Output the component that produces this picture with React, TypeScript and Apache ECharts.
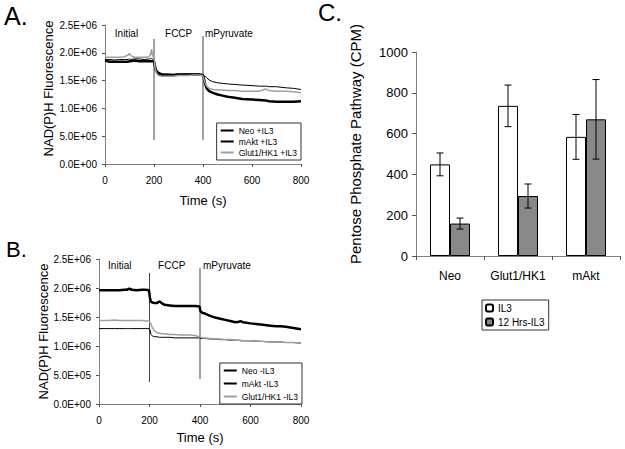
import React, { useEffect, useRef } from 'react';
import * as echarts from 'echarts';

// ---------- Panel A (+IL3), fluorescence in units of 1E+06 ----------
const timeA = [0, 20, 40, 60, 80, 95, 100, 105, 120, 140, 160, 180, 186, 190, 194, 200, 204, 208, 214, 220, 230, 240, 260, 280, 300, 320, 340, 360, 380, 398, 402, 408, 415, 425, 440, 460, 480, 500, 530, 560, 600, 630, 655, 660, 670, 700, 740, 770, 800];
const neoA = [1.88, 1.88, 1.87, 1.88, 1.88, 1.88, 1.89, 1.88, 1.89, 1.89, 1.88, 1.89, 1.89, 1.9, 1.89, 1.88, 1.78, 1.72, 1.68, 1.65, 1.63, 1.62, 1.62, 1.61, 1.62, 1.62, 1.62, 1.62, 1.62, 1.61, 1.6, 1.58, 1.55, 1.51, 1.48, 1.46, 1.45, 1.44, 1.43, 1.42, 1.41, 1.4, 1.4, 1.4, 1.39, 1.39, 1.37, 1.36, 1.34];
const mAktA = [1.86, 1.84, 1.84, 1.84, 1.84, 1.84, 1.85, 1.85, 1.86, 1.85, 1.85, 1.85, 1.85, 1.85, 1.85, 1.85, 1.76, 1.68, 1.64, 1.62, 1.61, 1.6, 1.6, 1.6, 1.61, 1.61, 1.61, 1.61, 1.61, 1.6, 1.57, 1.45, 1.36, 1.31, 1.28, 1.25, 1.23, 1.21, 1.19, 1.17, 1.16, 1.15, 1.14, 1.14, 1.13, 1.12, 1.12, 1.12, 1.13];
const glutA = [1.92, 1.92, 1.92, 1.92, 1.93, 1.96, 1.99, 1.95, 1.92, 1.92, 1.92, 1.93, 1.97, 2.06, 1.95, 1.92, 1.75, 1.66, 1.61, 1.59, 1.58, 1.58, 1.58, 1.58, 1.59, 1.59, 1.59, 1.6, 1.6, 1.59, 1.55, 1.46, 1.4, 1.36, 1.34, 1.33, 1.33, 1.32, 1.32, 1.31, 1.31, 1.31, 1.35, 1.34, 1.32, 1.31, 1.31, 1.3, 1.28];

// ---------- Panel B (-IL3) ----------
const timeB = [0, 20, 40, 60, 80, 100, 110, 120, 130, 150, 170, 185, 198, 202, 206, 212, 220, 230, 240, 248, 260, 280, 300, 320, 340, 360, 380, 398, 402, 410, 420, 440, 460, 480, 500, 520, 540, 555, 560, 570, 600, 640, 680, 700, 720, 740, 770, 800];
const neoB = [1.3, 1.3, 1.3, 1.3, 1.3, 1.3, 1.3, 1.3, 1.3, 1.3, 1.3, 1.3, 1.3, 1.28, 1.2, 1.17, 1.16, 1.16, 1.15, 1.15, 1.15, 1.15, 1.14, 1.14, 1.14, 1.14, 1.14, 1.14, 1.13, 1.13, 1.13, 1.12, 1.12, 1.11, 1.11, 1.1, 1.1, 1.1, 1.09, 1.09, 1.09, 1.08, 1.07, 1.07, 1.07, 1.06, 1.06, 1.05];
const mAktB = [1.96, 1.96, 1.96, 1.96, 1.96, 1.97, 1.97, 1.99, 1.97, 1.96, 1.97, 1.97, 1.96, 1.82, 1.76, 1.75, 1.74, 1.74, 1.77, 1.74, 1.71, 1.7, 1.69, 1.69, 1.69, 1.69, 1.69, 1.68, 1.6, 1.57, 1.56, 1.52, 1.49, 1.47, 1.45, 1.43, 1.41, 1.42, 1.43, 1.41, 1.39, 1.37, 1.35, 1.34, 1.34, 1.33, 1.31, 1.29];
const glutB = [1.44, 1.44, 1.44, 1.45, 1.44, 1.44, 1.44, 1.44, 1.44, 1.44, 1.44, 1.43, 1.43, 1.41, 1.37, 1.31, 1.26, 1.23, 1.22, 1.21, 1.21, 1.2, 1.2, 1.19, 1.19, 1.19, 1.18, 1.16, 1.15, 1.14, 1.14, 1.13, 1.12, 1.12, 1.11, 1.11, 1.1, 1.1, 1.1, 1.09, 1.09, 1.08, 1.07, 1.07, 1.07, 1.06, 1.06, 1.05];

// ---------- Event markers ----------
const eventLabels = ['Initial', 'FCCP', 'mPyruvate'];
const labelTimeA = [40, 245, 408];
const labelLevelA = 2.34;
const labelTimeB = [36, 234, 412];
const labelLevelB = 2.38;
const eventTimes = [200, 400];
const eventTopA = [2.25, 2.3];
const eventBottomA = [0.43, 0.43];
const eventTopB = [2.26, 2.34];
const eventBottomB = [0.38, 0.43];

// ---------- Panel C ----------
const categories = ['Neo', 'Glut1/HK1', 'mAkt'];
const il3 = [449, 736, 584];
const il3Err = [56, 102, 110];
const noIl3 = [159, 294, 670];
const noIl3Err = [27, 59, 195];
const legendC = ['IL3', '12 Hrs-IL3'];

const FONT = 'Liberation Sans, Arial, sans-serif';
const AXIS_GRAY = '#808080';
const BAR_W = 20;
const CAP = 3.5;

const pairs = (t: number[], v: number[]) => t.map((x, i) => [x, v[i]]);

const sci = (v: number) => {
  const x = Math.round(v * 1e6);
  if (x === 0) return '0.0E+00';
  const e = Math.floor(Math.log10(x) + 1e-9);
  const m = x / Math.pow(10, e);
  return m.toFixed(1) + 'E+' + String(e).padStart(2, '0');
};

function timeXAxis(gridIndex: number, nameGap: number) {
  return {
    gridIndex, type: 'value', min: 0, max: 800, interval: 200,
    axisLine: { show: true, onZero: false, lineStyle: { color: AXIS_GRAY, width: 1 } },
    axisTick: { show: true, length: 3, lineStyle: { color: '#555' } },
    splitLine: { show: false },
    axisLabel: { fontSize: 10, color: '#000', fontFamily: FONT, margin: 11 },
    name: 'Time (s)', nameLocation: 'middle', nameGap,
    nameTextStyle: { fontSize: 13, color: '#000', fontFamily: FONT, fontWeight: 'normal' },
  };
}

function fluoYAxis(gridIndex: number, nameGap: number, shift: number) {
  return {
    gridIndex, type: 'value', min: 0, max: 2.5, interval: 0.5,
    axisLine: { show: true, onZero: false, lineStyle: { color: AXIS_GRAY, width: 1 } },
    axisTick: { show: true, length: 3, lineStyle: { color: '#555' } },
    splitLine: { show: false },
    axisLabel: { fontSize: 10, color: '#000', fontFamily: FONT, margin: 8, formatter: (v: number) => sci(v) },
    name: 'NAD(P)H Fluorescence', nameLocation: 'middle', nameGap,
    nameTextStyle: { fontSize: 13, color: '#000', fontFamily: FONT, fontWeight: 'normal', padding: [0, 0, 0, shift] },
  };
}

function traceSeries(name: string, idx: number, t: number[], v: number[], color: string, width: number) {
  return {
    type: 'line', name, xAxisIndex: idx, yAxisIndex: idx, data: pairs(t, v),
    symbol: 'none', showSymbol: false, silent: true,
    lineStyle: { color, width }, itemStyle: { color },
  };
}

function eventSeries(idx: number, tops: number[], bottoms: number[]) {
  return eventTimes.map((t, i) => ({
    type: 'line', name: 'event' + idx + '_' + i, xAxisIndex: idx, yAxisIndex: idx,
    data: [[t, tops[i]], [t, bottoms[i]]], symbol: 'none', silent: true,
    lineStyle: { color: '#444', width: 1 }, z: 1,
  }));
}

function labelSeries(idx: number, times: number[], level: number) {
  return {
    type: 'scatter', name: 'labels' + idx, xAxisIndex: idx, yAxisIndex: idx, symbolSize: 0, silent: true,
    itemStyle: { color: '#000' },
    data: times.map((t, i) => ({
      value: [t, level],
      label: {
        show: true, formatter: eventLabels[i], position: [0, 0], align: 'left', verticalAlign: 'middle',
        fontSize: 10, color: '#000', fontFamily: FONT, opacity: 1,
      },
    })),
  };
}

function errSeries(vals: number[], errs: number[], side: number) {
  return {
    type: 'custom', name: 'err' + side, xAxisIndex: 2, yAxisIndex: 2, silent: true, z: 10,
    encode: { x: 0, y: 1 },
    data: vals.map((v, i) => [i, v, errs[i]]),
    renderItem: (params: any, api: any) => {
      const i = api.value(0);
      const v = api.value(1);
      const e = api.value(2);
      const c = api.coord([i, v]);
      const x = c[0] + side * BAR_W / 2;
      const top = api.coord([i, v + e])[1];
      const bot = api.coord([i, v - e])[1];
      const style = { stroke: '#000', lineWidth: 1 };
      return {
        type: 'group',
        children: [
          { type: 'line', shape: { x1: x, y1: top, x2: x, y2: bot }, style },
          { type: 'line', shape: { x1: x - CAP, y1: top, x2: x + CAP, y2: top }, style },
          { type: 'line', shape: { x1: x - CAP, y1: bot, x2: x + CAP, y2: bot }, style },
        ],
      };
    },
  };
}

function lineLegend(names: string[], right: number, top: number, itemGap: number) {
  return {
    data: names, orient: 'vertical', right, top,
    itemWidth: 13, itemHeight: 8, itemGap, padding: [3, 4, 3, 3],
    borderColor: '#333', borderWidth: 1, borderRadius: 0, backgroundColor: '#fff',
    textStyle: { fontSize: 8.5, color: '#000', fontFamily: FONT },
    itemStyle: { color: 'transparent', borderWidth: 0, opacity: 0 },
    selectedMode: false,
  };
}

export default function App() {
  const ref = useRef<HTMLDivElement>(null);
  useEffect(() => {
    if (!ref.current) return;
    const chart = echarts.init(ref.current, undefined, { renderer: 'svg' });
    const option: any = {
      animation: false,
      backgroundColor: '#fff',
      textStyle: { fontFamily: FONT },
      grid: [
        { left: 105, top: 25, width: 196, height: 139, outerBoundsMode: 'none' },
        { left: 99, top: 259, width: 202, height: 145, outerBoundsMode: 'none' },
        { left: 416, top: 52, width: 204, height: 204, outerBoundsMode: 'none' },
      ],
      xAxis: [
        timeXAxis(0, 30),
        timeXAxis(1, 27),
        {
          gridIndex: 2, type: 'category', data: categories,
          axisLine: { show: true, lineStyle: { color: AXIS_GRAY, width: 1 } },
          axisTick: { show: true, length: 4, lineStyle: { color: '#555' } },
          axisLabel: { fontSize: 12, color: '#000', fontFamily: FONT, margin: 14, interval: 0 },
        },
      ],
      yAxis: [
        fluoYAxis(0, 50, 12),
        fluoYAxis(1, 44, 0),
        {
          gridIndex: 2, type: 'value', min: 0, max: 1000, interval: 200,
          axisLine: { show: true, lineStyle: { color: AXIS_GRAY, width: 1 } },
          axisTick: { show: true, length: 4, lineStyle: { color: '#555' } },
          splitLine: { show: false },
          axisLabel: { fontSize: 13, color: '#000', fontFamily: FONT, margin: 8, formatter: (v: number) => String(v) },
          name: 'Pentose Phosphate Pathway (CPM)', nameLocation: 'middle', nameGap: 53,
          nameTextStyle: { fontSize: 15, color: '#000', fontFamily: FONT, fontWeight: 'normal', padding: [0, 0, 0, 20] },
        },
      ],
      legend: [
        lineLegend(['Neo +IL3', 'mAkt +IL3', 'Glut1/HK1 +IL3'], 324, 123, 2),
        lineLegend(['Neo -IL3', 'mAkt -IL3', 'Glut1/HK1 -IL3'], 323, 363, 4),
        {
          data: legendC, orient: 'vertical', left: 482, top: 300,
          itemWidth: 7, itemHeight: 7, itemGap: 4, padding: [3, 4, 3, 3],
          borderColor: '#333', borderWidth: 1, borderRadius: 0, backgroundColor: '#fff',
          textStyle: { fontSize: 10, color: '#000', fontFamily: FONT },
          selectedMode: false,
        },
      ],
      graphic: [
        { type: 'text', left: 4, top: 3, style: { text: 'A.', fontSize: 25, fill: '#000', fontFamily: FONT } },
        { type: 'text', left: 6, top: 238, style: { text: 'B.', fontSize: 22, fill: '#000', fontFamily: FONT } },
        { type: 'text', left: 318, top: 0, style: { text: 'C.', fontSize: 24, fill: '#000', fontFamily: FONT } },
      ],
      series: [
        ...eventSeries(0, eventTopA, eventBottomA),
        ...eventSeries(1, eventTopB, eventBottomB),
        labelSeries(0, labelTimeA, labelLevelA),
        labelSeries(1, labelTimeB, labelLevelB),
        traceSeries('Neo +IL3', 0, timeA, neoA, '#000', 1),
        traceSeries('mAkt +IL3', 0, timeA, mAktA, '#000', 2.5),
        traceSeries('Glut1/HK1 +IL3', 0, timeA, glutA, '#a0a0a0', 1.5),
        traceSeries('Neo -IL3', 1, timeB, neoB, '#000', 1),
        traceSeries('mAkt -IL3', 1, timeB, mAktB, '#000', 2.5),
        traceSeries('Glut1/HK1 -IL3', 1, timeB, glutB, '#a0a0a0', 1.5),
        {
          type: 'bar', name: legendC[0], xAxisIndex: 2, yAxisIndex: 2, data: il3,
          barWidth: BAR_W, barGap: '0%', silent: true,
          itemStyle: { color: '#fff', borderColor: '#000', borderWidth: 1 },
        },
        {
          type: 'bar', name: legendC[1], xAxisIndex: 2, yAxisIndex: 2, data: noIl3,
          barWidth: BAR_W, barGap: '0%', silent: true,
          itemStyle: { color: '#888888', borderColor: '#000', borderWidth: 1 },
        },
        errSeries(il3, il3Err, -1),
        errSeries(noIl3, noIl3Err, 1),
      ],
    };
    chart.setOption(option);
    return () => chart.dispose();
  }, []);
  return <div ref={ref} style={{ position: 'fixed', left: 0, top: 0, width: 625, height: 449, background: '#fff' }} />;
}
